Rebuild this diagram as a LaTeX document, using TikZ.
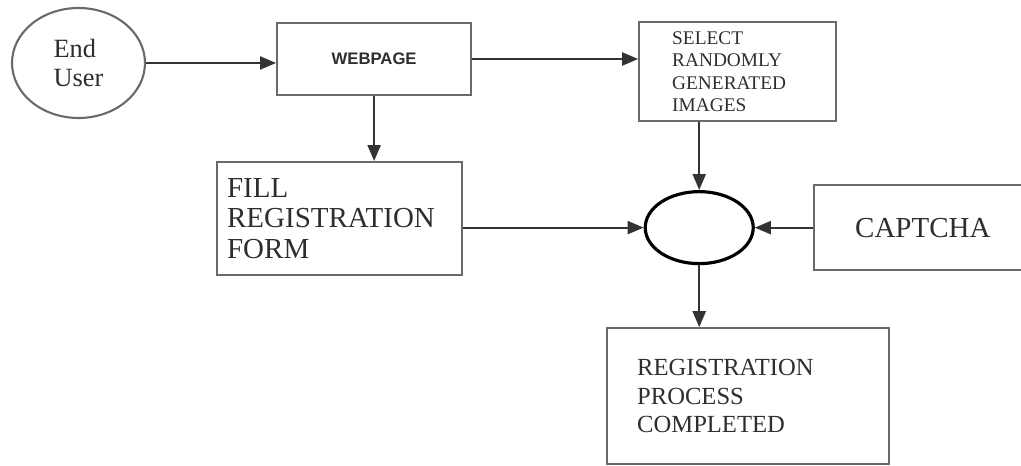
\documentclass[tikz,border=0pt]{standalone}
\usepackage{fontspec}
\setmainfont{Liberation Serif}
\setsansfont{Liberation Sans}
\usetikzlibrary{shapes.geometric, arrows.meta, positioning}

\definecolor{edgegray}{HTML}{6A6A6A}
\definecolor{linegray}{HTML}{333333}
\definecolor{textgray}{HTML}{2E2E2E}

\begin{document}
\begin{tikzpicture}[
  box/.style={rectangle, draw=edgegray, line width=1.2pt, text=textgray, align=left},
  oval/.style={ellipse, draw=edgegray, line width=1.2pt, text=textgray, align=left, inner sep=0pt},
  joinoval/.style={ellipse, draw=black, line width=1.8pt, minimum width=2.16cm, minimum height=1.44cm},
  arr/.style={-{Triangle[length=3.2mm, width=2.6mm]}, line width=1.2pt, draw=linegray},
]
\useasboundingbox (0,0) rectangle (20.42,9.3);
\clip (0,0) rectangle (20.42,9.3);

%% TOP ROW
\node[oval, minimum width=2.66cm, minimum height=2.2cm,
      font=\fontsize{15}{17}\selectfont] (user) at (1.57,8.04) {End\\User};
\node[box, align=center, minimum width=3.88cm, minimum height=1.44cm,
      font=\sffamily\bfseries\fontsize{9.5}{12}\selectfont,
      right=2.6cm of user, yshift=0.08cm] (web) {WEBPAGE};
\node[box, text width=2.62cm, inner xsep=0.66cm, minimum height=1.98cm,
      font=\fontsize{11}{12.8}\selectfont,
      right=3.32cm of web, yshift=-0.25cm] (select) {SELECT\\RANDOMLY\\GENERATED\\IMAGES};

%% MIDDLE ROW
\node[box, text width=4.5cm, inner xsep=0.2cm, minimum height=2.26cm,
      font=\fontsize{16.5}{17.6}\selectfont,
      below=1.3cm of web, xshift=-0.69cm] (form) {FILL\\REGISTRATION\\FORM};
\node[joinoval, below=1.36cm of select, xshift=-0.77cm] (merge) {};
\node[box, align=center, minimum width=4.36cm, minimum height=1.7cm,
      font=\fontsize{16.5}{18}\selectfont,
      right=1.16cm of merge] (captcha) {CAPTCHA};

%% BOTTOM
\node[box, text width=4.44cm, inner xsep=0.6cm, minimum height=2.72cm,
      font=\fontsize{14}{16.2}\selectfont,
      below=1.24cm of merge, xshift=0.98cm] (done) {REGISTRATION\\PROCESS\\COMPLETED};

%% ARROWS
\draw[arr] (user.east) -- (user.east -| web.west);
\draw[arr] (web.east) -- (web.east -| select.west);
\draw[arr] (web.south) -- (web.south |- form.north);
\draw[arr] (select.south -| merge.north) -- (merge.north);
\draw[arr] (form.east |- merge.west) -- (merge.west);
\draw[arr] (captcha.west) -- (merge.east);
\draw[arr] (merge.south) -- (merge.south |- done.north);
\end{tikzpicture}
\end{document}
